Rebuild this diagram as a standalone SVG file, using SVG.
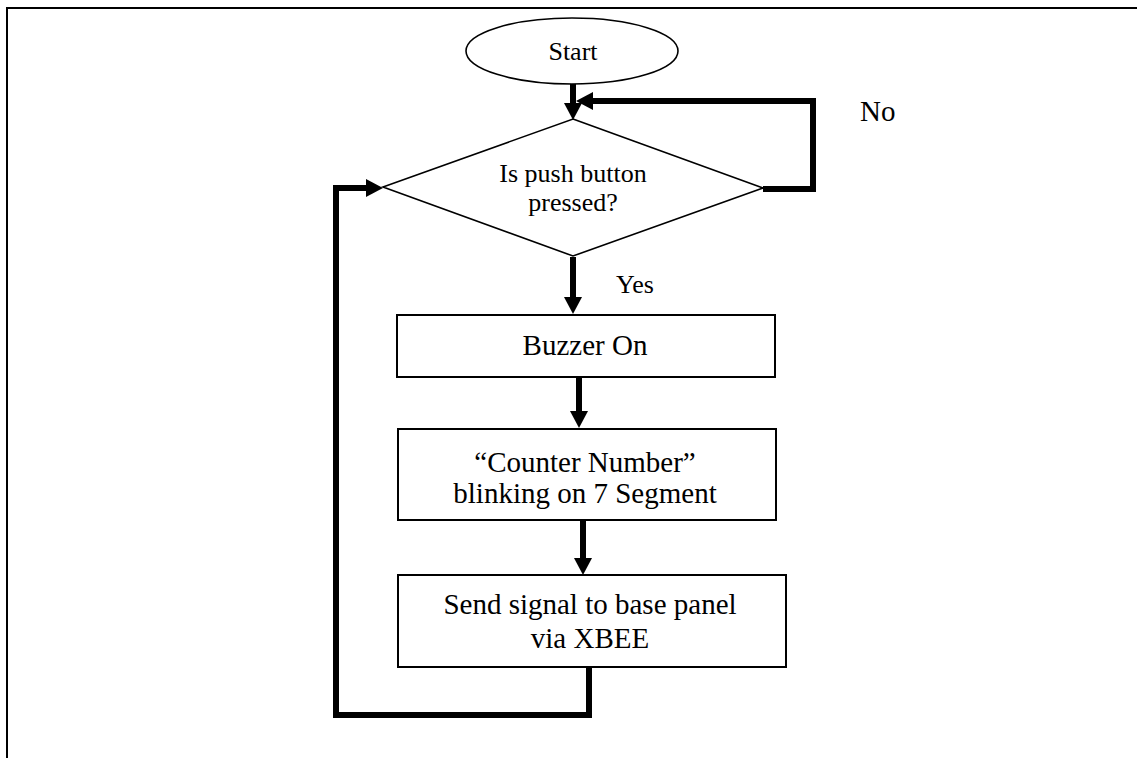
<svg xmlns="http://www.w3.org/2000/svg" width="1137" height="758" viewBox="0 0 1137 758">
  <style>
    .shape { fill: #ffffff; stroke: #000000; }
    .box { stroke-width: 2; }
    .thin { stroke-width: 1.6; }
    .flow { fill: none; stroke: #000000; stroke-width: 6; stroke-linejoin: miter; stroke-linecap: butt; }
    text { font-family: "Liberation Serif", "Times New Roman", serif; fill: #000000; text-anchor: middle; }
    .big { font-size: 29px; }
    .small { font-size: 26px; }
    .label { text-anchor: start; }
  </style>
  <defs>
    <marker id="head" markerUnits="userSpaceOnUse" markerWidth="20" markerHeight="20" refX="0" refY="9" orient="auto">
      <path d="M0,0 L17,9 L0,18 Z" fill="#000000"/>
    </marker>
  </defs>

  <rect width="1137" height="758" fill="#ffffff"/>

  <!-- page frame -->
  <path d="M7,758 V8 H1137" fill="none" stroke="#000000" stroke-width="2"/>

  <g id="start">
    <ellipse class="shape thin" cx="572" cy="51" rx="106" ry="33"/>
    <text class="small" x="573" y="60">Start</text>
  </g>

  <g id="decision">
    <polygon class="shape thin" points="573,119 763,188 573,256 383,187"/>
    <text class="small" x="573" y="182">Is push button</text>
    <text class="small" x="573" y="211">pressed?</text>
  </g>

  <g id="buzzer">
    <rect class="shape box" x="397" y="315" width="378" height="62"/>
    <text class="big" x="585" y="355">Buzzer On</text>
  </g>

  <g id="counter">
    <rect class="shape box" x="398" y="429" width="378" height="91"/>
    <text class="big" x="585" y="472">“Counter Number”</text>
    <text class="big" x="585" y="503">blinking on 7 Segment</text>
  </g>

  <g id="send">
    <rect class="shape box" x="398" y="575" width="388" height="92"/>
    <text class="big" x="590" y="614">Send signal to base panel</text>
    <text class="big" x="590" y="648">via XBEE</text>
  </g>

  <g id="connectors">
    <path class="flow" d="M573,84 V103" marker-end="url(#head)"/>
    <path class="flow" d="M763,189 H813 V101 H593" marker-end="url(#head)"/>
    <path class="flow" d="M573,257 V297" marker-end="url(#head)"/>
    <path class="flow" d="M579,377 V411" marker-end="url(#head)"/>
    <path class="flow" d="M583,520 V558" marker-end="url(#head)"/>
    <path class="flow" d="M589,667 V715 H336 V188 H366" marker-end="url(#head)"/>
  </g>

  <g id="labels">
    <text class="small label" x="616" y="293">Yes</text>
    <text class="big label" x="860" y="121">No</text>
  </g>
</svg>
